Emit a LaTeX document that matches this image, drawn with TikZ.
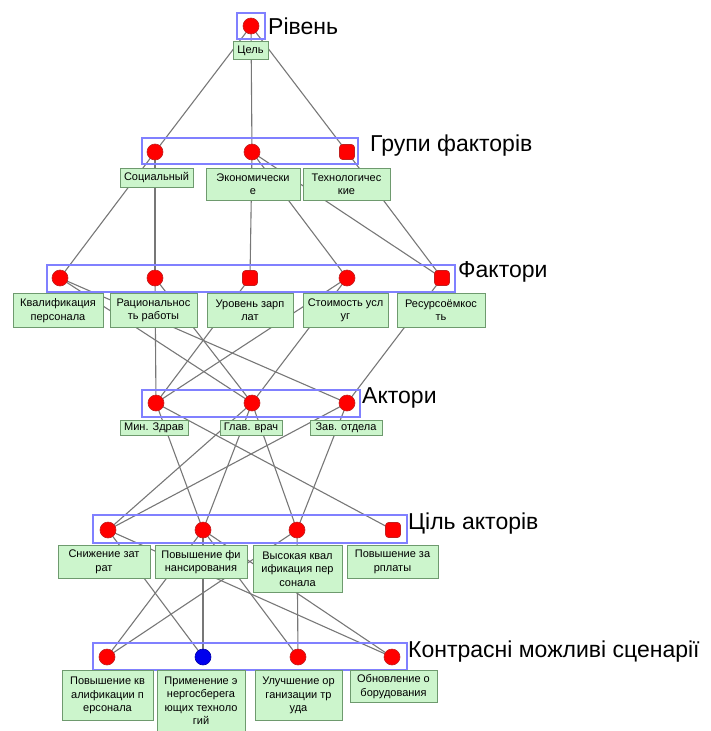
\documentclass[tikz,border=0pt]{standalone}
\usepackage{fontspec}
\setmainfont{Liberation Sans}
\usetikzlibrary{backgrounds}
\begin{document}
\begin{tikzpicture}[x=1pt,y=-1pt,
    crit/.style={circle,fill=rojo,draw=rojob,line width=0.6pt,minimum size=16pt,inner sep=0pt},
    critsq/.style={rectangle,rounded corners=3pt,fill=rojo,draw=rojob,line width=0.6pt,minimum size=15pt,inner sep=0pt},
    critaz/.style={crit,fill=azul,draw=azul!70!black},
    lbl/.style={draw=verdeb,fill=verde,line width=0.9pt,align=center,anchor=north,inner sep=0pt,font=\fontsize{11}{13.5}\selectfont},
    marco/.style={draw=lila,line width=1.6pt},
    nivel/.style={anchor=west,inner sep=0pt,font=\fontsize{23}{27}\selectfont},
    arista/.style={draw=gris,line width=1.1pt}]
    %colores
    \definecolor{rojo}{HTML}{FF0000}
    \definecolor{rojob}{HTML}{C02020}
    \definecolor{azul}{HTML}{0000EE}
    \definecolor{verde}{HTML}{CCF5CC}
    \definecolor{verdeb}{HTML}{6E9A6E}
    \definecolor{lila}{HTML}{8080FF}
    \definecolor{gris}{HTML}{777777}

    \useasboundingbox (0,0) rectangle (711,731);

    % nivel 0
    \draw[marco] (237,13) rectangle (265,39);
    \node[crit] (c0) at (251,26) {};
    \node[lbl,minimum width=35pt,minimum height=18pt] (l0) at (250.5,41) {Цель};
    \node[nivel] at (268,26) {Рівень};

    % grupos de factores
    \draw[marco] (142,138) rectangle (358,164);
    \foreach \n/\x/\s in {g1/155/crit, g2/252/crit, g3/347/critsq}
        \node[\s] (\n) at (\x,152) {};
    \foreach \n/\x/\w/\h/\t in {lg1/156.5/73/19/{Социальный},
        lg2/253/94/32/{Экономически\\е}, lg3/346.5/87/32/{Технологичес\\кие}}
        \node[lbl,minimum width=\w pt,minimum height=\h pt] (\n) at (\x,168) {\t};
    \node[nivel] at (370,146) {Групи факторів};

    % factores
    \draw[marco] (47,265) rectangle (455,292);
    \foreach \n/\x/\s in {f1/60/crit, f2/155/crit, f3/250/critsq, f4/347/crit, f5/442/critsq}
        \node[\s] (\n) at (\x,278) {};
    \foreach \n/\x/\w/\t in {lf1/58/90/{Квалификация\\персонала},
        lf2/153.5/87/{Рациональнос\\ть работы}, lf3/250/86/{Уровень зарп\\лат},
        lf4/345.5/85/{Стоимость усл\\уг}, lf5/441/88/{Ресурсоёмкос\\ть}}
        \node[lbl,minimum width=\w pt,minimum height=34pt] (\n) at (\x,293) {\t};
    \node[nivel] at (458,272) {Фактори};

    % actores
    \draw[marco] (142,390) rectangle (360,417);
    \foreach \n/\x in {a1/156, a2/252, a3/347}
        \node[crit] (\n) at (\x,403) {};
    \foreach \n/\x/\w/\t in {la1/154/68/{Мин. Здрав}, la2/251/62/{Глав. врач}, la3/346/72/{Зав. отдела}}
        \node[lbl,minimum width=\w pt,minimum height=15pt] (\n) at (\x,420) {\t};
    \node[nivel] at (362,398) {Актори};

    % objetivos de actores
    \draw[marco] (93,515) rectangle (407,543);
    \foreach \n/\x/\s in {t1/108/crit, t2/203/crit, t3/297/crit, t4/393/critsq}
        \node[\s] (\n) at (\x,530) {};
    \foreach \n/\x/\w/\h/\t in {lt1/104/92/33/{Снижение зат\\рат},
        lt2/201/92/33/{Повышение фи\\нансирования},
        lt3/297.5/89/47/{Высокая квал\\ификация пер\\сонала},
        lt4/392.5/91/33/{Повышение за\\рплаты}}
        \node[lbl,minimum width=\w pt,minimum height=\h pt] (\n) at (\x,545) {\t};
    \node[nivel] at (408,524) {Ціль акторів};

    % escenarios
    \draw[marco] (93,643) rectangle (407,670);
    \foreach \n/\x/\s in {s1/107/crit, s2/203/critaz, s3/298/crit, s4/392/crit}
        \node[\s] (\n) at (\x,657) {};
    \foreach \n/\x/\w/\h/\t in {ls1/107.5/91/50/{Повышение кв\\алификации п\\ерсонала},
        ls2/201/88/61/{Применение э\\нергосберега\\ющих техноло\\гий},
        ls3/298.5/87/50/{Улучшение ор\\ганизации тр\\уда},
        ls4/393.5/87/32/{Обновление о\\борудования}}
        \node[lbl,minimum width=\w pt,minimum height=\h pt] (\n) at (\x,670) {\t};
    \node[nivel] at (408,652) {Контрасні можливі сценарії};

    % aristas
    \begin{pgfonlayer}{background}
        \foreach \a/\b in {c0/g1,c0/g2,c0/g3,
            g1/f1,g1/f2,g2/f3,g2/f4,g2/f5,g3/f5,
            f1/a2,f1/a3,f2/a1,f2/a2,f3/a1,f4/a1,f4/a2,f5/a3,
            a1/t2,a1/t4,a2/t1,a2/t2,a2/t3,a3/t1,a3/t3,
            t1/s2,t1/s4,t2/s1,t2/s2,t2/s3,t2/s4,t3/s1,t3/s3}
            \draw[arista] (\a.center) -- (\b.center);
    \end{pgfonlayer}
\end{tikzpicture}
\end{document}
